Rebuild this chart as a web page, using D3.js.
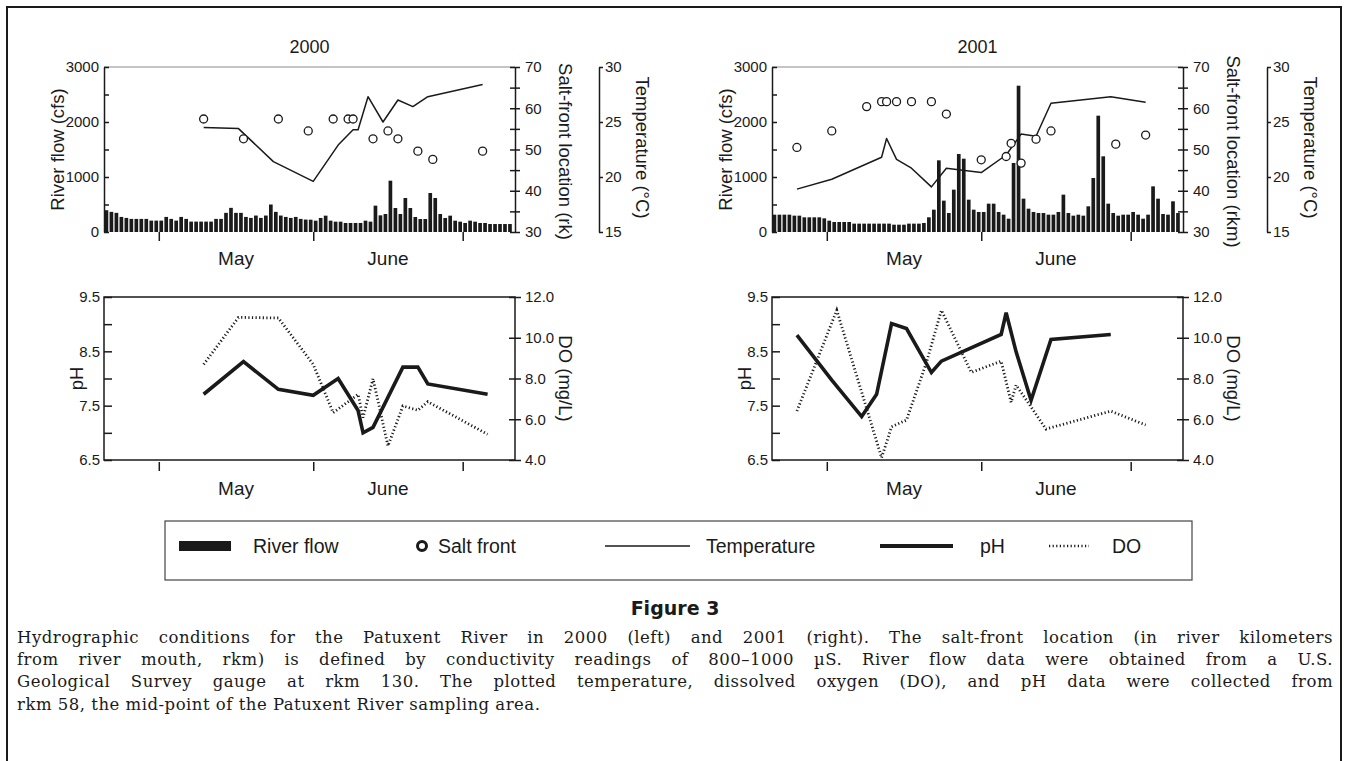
<!DOCTYPE html>
<html><head><meta charset="utf-8">
<script src="https://cdn.jsdelivr.net/npm/d3@7/dist/d3.min.js"></script>
<style>
body{margin:0;background:#fff;}
svg{display:block;}
text{font-family:"Liberation Sans",Arial,sans-serif;fill:#1a1a1a;}
</style></head>
<body><svg id="c" width="1349" height="761"></svg>
<script>
// ---------------- DATA ----------------
const years = [2000, 2001];
const monthLabels = ["May", "June"];
const flowStart = ["2000-04-20", "2001-04-20"];
const flow2000 = [396,366,348,274,256,238,238,238,238,207,207,207,274,238,207,274,238,189,189,189,189,189,238,238,348,439,348,348,274,256,299,256,299,500,366,299,274,256,274,238,226,224,206,255,297,206,188,188,164,164,164,164,206,188,479,303,327,933,436,327,618,436,273,236,236,709,618,327,255,297,206,188,164,206,188,164,164,145,145,145,145,145];
const flow2001 = [315,315,315,315,297,297,267,267,267,267,248,206,182,182,182,182,152,152,152,152,152,152,152,152,133,133,133,152,152,152,164,267,406,1303,570,345,770,1418,1333,588,406,364,364,515,515,364,315,242,1255,2660,606,424,364,345,345,315,315,364,679,345,297,315,297,467,982,2115,1376,515,345,297,315,315,364,315,242,315,830,606,327,315,558,345];

const tempDates2000 = ["2000-05-10","2000-05-17","2000-05-24","2000-06-01","2000-06-06","2000-06-09","2000-06-10","2000-06-12","2000-06-15","2000-06-18","2000-06-21","2000-06-24","2000-07-05"];
const temp2000 = [24.5,24.4,21.4,19.6,22.9,24.3,24.3,27.3,25.0,27.0,26.4,27.3,28.4];
const saltDates2000 = ["2000-05-10","2000-05-18","2000-05-25","2000-05-31","2000-06-05","2000-06-08","2000-06-09","2000-06-13","2000-06-16","2000-06-18","2000-06-22","2000-06-25","2000-07-05"];
const salt2000 = [57.4,52.6,57.4,54.5,57.4,57.4,57.4,52.6,54.5,52.6,49.6,47.6,49.6];
const pHDates2000 = ["2000-05-10","2000-05-18","2000-05-25","2000-06-01","2000-06-06","2000-06-10","2000-06-11","2000-06-13","2000-06-19","2000-06-22","2000-06-24","2000-07-06"];
const pH2000 = [7.71,8.31,7.80,7.69,8.0,7.41,7.0,7.1,8.21,8.21,7.9,7.71];
const doDates2000 = ["2000-05-10","2000-05-17","2000-05-25","2000-06-01","2000-06-05","2000-06-10","2000-06-11","2000-06-13","2000-06-16","2000-06-19","2000-06-22","2000-06-24","2000-07-06"];
const do2000 = [8.69,11.0,10.97,8.69,6.32,7.22,6.08,7.99,4.69,6.65,6.44,6.86,5.26];

const tempDates2001 = ["2001-04-25","2001-05-02","2001-05-12","2001-05-13","2001-05-15","2001-05-18","2001-05-22","2001-05-25","2001-06-01","2001-06-06","2001-06-09","2001-06-12","2001-06-15","2001-06-27","2001-07-04"];
const temp2001 = [18.9,19.8,21.8,23.5,21.6,20.8,19.1,20.8,20.4,22.0,23.9,23.7,26.7,27.3,26.8];
const saltDates2001 = ["2001-04-25","2001-05-02","2001-05-09","2001-05-12","2001-05-13","2001-05-15","2001-05-18","2001-05-22","2001-05-25","2001-06-01","2001-06-06","2001-06-07","2001-06-09","2001-06-12","2001-06-15","2001-06-28","2001-07-04"];
const salt2001 = [50.5,54.5,60.4,61.6,61.6,61.6,61.6,61.6,58.6,47.5,48.3,51.5,46.7,52.5,54.5,51.3,53.5];
const pHDates2001 = ["2001-04-25","2001-05-02","2001-05-08","2001-05-11","2001-05-14","2001-05-17","2001-05-22","2001-05-24","2001-06-05","2001-06-06","2001-06-08","2001-06-11","2001-06-15","2001-06-27"];
const pH2001 = [8.80,7.97,7.30,7.71,9.01,8.92,8.11,8.32,8.81,9.21,8.49,7.60,8.72,8.81];
const doDates2001 = ["2001-04-25","2001-05-03","2001-05-12","2001-05-14","2001-05-17","2001-05-21","2001-05-24","2001-05-30","2001-06-05","2001-06-07","2001-06-08","2001-06-14","2001-06-27","2001-07-04"];
const do2001 = [6.40,11.35,4.11,5.63,5.96,8.79,11.35,8.30,8.85,6.83,7.68,5.52,6.40,5.72];

const flowTicks = [0,1000,2000,3000];
const saltTicks = [30,40,50,60,70];
const tempTicks = [15,20,25,30];
const pHTicks = [6.5,7.5,8.5,9.5];
const doTicks = [4,6,8,10,12];
const saltTitles = ["Salt-front location (rk)", "Salt-front location (rkm)"];

const captionLines = [
 "Hydrographic conditions for the Patuxent River in 2000 (left) and 2001 (right). The salt-front location (in river kilometers",
 "from river mouth, rkm) is defined by conductivity readings of 800\u20131000 \u00B5S. River flow data were obtained from a U.S.",
 "Geological Survey gauge at rkm 130. The plotted temperature, dissolved oxygen (DO), and pH data were collected from",
 "rkm 58, the mid-point of the Patuxent River sampling area."
];

// ---------------- DRAW ----------------
const parse = d3.timeParse("%Y-%m-%d");
const svg = d3.select("#c");
const INK = "#1a1a1a";

svg.append("path").attr("d","M7,761 V7 H1341 V761").attr("fill","none").attr("stroke",INK).attr("stroke-width",2);

const PW = 411, TOP_Y0 = 67, TOP_Y1 = 232, BOT_Y0 = 297, BOT_Y1 = 460;
const panelX = [104, 772];

function styleAxis(g){
  g.selectAll("path.domain").attr("stroke",INK).attr("stroke-width",1.5);
  g.selectAll(".tick line").attr("stroke",INK).attr("stroke-width",1.5);
  g.selectAll(".tick text").style("font-size","15px").attr("fill",INK).style("font-family","Liberation Sans, Arial, sans-serif");
}
function minorTicks(lo,hi,step){const a=[];for(let v=lo;v<=hi+1e-9;v+=step)a.push(+v.toFixed(3));return a;}

function xScale(k){
  const y = years[k];
  return d3.scaleTime().domain([new Date(y,3,20), new Date(y,6,11,12)]).range([panelX[k], panelX[k]+PW]);
}

function monthAxis(k, x, yAxis, labelY){
  const y = years[k];
  const ticks = [new Date(y,4,1), new Date(y,5,1), new Date(y,6,1)];
  const g = svg.append("g").attr("transform",`translate(0,${yAxis})`)
    .call(d3.axisBottom(x).tickValues(ticks).tickSize(9).tickSizeOuter(0).tickFormat(""));
  g.select("path.domain").remove();
  styleAxis(g);
  monthLabels.forEach((m,i)=>{
    const cx = (x(ticks[i]) + x(ticks[i+1]))/2;
    svg.append("text").attr("x",cx).attr("y",labelY).attr("text-anchor","middle").style("font-size","19px").text(m);
  });
}

function topPanel(k, flow, tDates, temp, sDates, salt){
  const x = xScale(k);
  const x0 = panelX[k], x1 = x0 + PW;
  const yF = d3.scaleLinear().domain([0,3000]).range([TOP_Y1, TOP_Y0]);
  const yS = d3.scaleLinear().domain([30,70]).range([TOP_Y1, TOP_Y0]);
  const yT = d3.scaleLinear().domain([15,30]).range([TOP_Y1, TOP_Y0]);
  const start = parse(flowStart[k]);
  svg.append("line").attr("x1",x0).attr("x2",x1).attr("y1",TOP_Y0).attr("y2",TOP_Y0).attr("stroke","#8a8a8a").attr("stroke-width",1.2);
  const dayW = x(d3.timeDay.offset(start,1)) - x(start);
  svg.append("g").selectAll("rect").data(flow).join("rect")
    .attr("x",(d,i)=>x(d3.timeDay.offset(start,i)) + 0.6)
    .attr("width", dayW - 1.3)
    .attr("y",d=>yF(d)).attr("height",d=>yF(0)-yF(d))
    .attr("fill",INK);
  const tp = tDates.map((d,i)=>[parse(d),temp[i]]);
  svg.append("path").datum(tp).attr("fill","none").attr("stroke",INK).attr("stroke-width",1.5)
    .attr("stroke-linejoin","round")
    .attr("d", d3.line().x(d=>x(d[0])).y(d=>yT(d[1])));
  svg.append("g").selectAll("circle").data(sDates.map((d,i)=>[parse(d),salt[i]])).join("circle")
    .attr("cx",d=>x(d[0])).attr("cy",d=>yS(d[1])).attr("r",4)
    .attr("fill","#fff").attr("stroke",INK).attr("stroke-width",1.3);
  let g = svg.append("g").attr("transform",`translate(${x0},0)`)
    .call(d3.axisRight(yF).tickValues(minorTicks(0,3000,500)).tickSize(5).tickSizeOuter(0).tickFormat(""));
  styleAxis(g);
  g = svg.append("g").attr("transform",`translate(${x0},0)`)
    .call(d3.axisLeft(yF).tickValues(flowTicks).tickSize(0).tickPadding(5).tickFormat(d3.format("d")));
  g.select("path.domain").remove(); styleAxis(g);
  g = svg.append("g").attr("transform",`translate(${x1},0)`)
    .call(d3.axisRight(yS).tickValues(minorTicks(30,70,5)).tickSize(5).tickSizeOuter(0).tickFormat(""));
  styleAxis(g);
  g = svg.append("g").attr("transform",`translate(${x1},0)`)
    .call(d3.axisLeft(yS).tickValues(minorTicks(30,70,5)).tickSize(5).tickSizeOuter(0).tickFormat(""));
  g.select("path.domain").remove(); styleAxis(g);
  g = svg.append("g").attr("transform",`translate(${x1},0)`)
    .call(d3.axisRight(yS).tickValues(saltTicks).tickSize(0).tickPadding(10));
  g.select("path.domain").remove(); styleAxis(g);
  const xt = x0 + 495;
  g = svg.append("g").attr("transform",`translate(${xt},0)`)
    .call(d3.axisRight(yT).tickValues(tempTicks).tickSize(4).tickSizeOuter(0).tickPadding(2));
  styleAxis(g);
  monthAxis(k, x, TOP_Y1, 265);
  svg.append("text").attr("x",(x0+x1)/2).attr("y",53).attr("text-anchor","middle").style("font-size","18px").text(years[k]);
  svg.append("text").attr("transform",`translate(${x0-40},${(TOP_Y0+TOP_Y1)/2}) rotate(-90)`).attr("text-anchor","middle").style("font-size","18.5px").text("River flow (cfs)");
  svg.append("text").attr("transform",`translate(${x1+44},${(TOP_Y0+TOP_Y1)/2+2}) rotate(90)`).attr("text-anchor","middle").style("font-size","18.5px").text(saltTitles[k]);
  svg.append("text").attr("transform",`translate(${xt+37},${(TOP_Y0+TOP_Y1)/2-2}) rotate(90)`).attr("text-anchor","middle").style("font-size","18.5px").text("Temperature (\u00B0C)");
}

function bottomPanel(k, pDates, pH, dDates, DO){
  const x = xScale(k);
  const x0 = panelX[k], x1 = x0 + PW;
  const yP = d3.scaleLinear().domain([6.5,9.5]).range([BOT_Y1, BOT_Y0]);
  const yD = d3.scaleLinear().domain([4,12]).range([BOT_Y1, BOT_Y0]);
  svg.append("rect").attr("x",x0).attr("y",BOT_Y0).attr("width",PW).attr("height",BOT_Y1-BOT_Y0)
    .attr("fill","none").attr("stroke",INK).attr("stroke-width",1.5);
  svg.append("path").datum(dDates.map((d,i)=>[parse(d),DO[i]])).attr("fill","none").attr("stroke",INK)
    .attr("stroke-width",2.8).attr("stroke-dasharray","1.2,2.4")
    .attr("d", d3.line().x(d=>x(d[0])).y(d=>yD(d[1])));
  svg.append("path").datum(pDates.map((d,i)=>[parse(d),pH[i]])).attr("fill","none").attr("stroke",INK)
    .attr("stroke-width",3.6).attr("stroke-linejoin","miter")
    .attr("d", d3.line().x(d=>x(d[0])).y(d=>yP(d[1])));
  let g = svg.append("g").attr("transform",`translate(${x0},0)`)
    .call(d3.axisRight(yP).tickValues(minorTicks(6.5,9.5,0.5)).tickSize(8).tickSizeOuter(0).tickFormat(""));
  g.select("path.domain").remove(); styleAxis(g);
  g = svg.append("g").attr("transform",`translate(${x0},0)`)
    .call(d3.axisLeft(yP).tickValues(pHTicks).tickSize(0).tickPadding(4).tickFormat(d3.format(".1f")));
  g.select("path.domain").remove(); styleAxis(g);
  g = svg.append("g").attr("transform",`translate(${x1},0)`)
    .call(d3.axisRight(yD).tickValues(doTicks).tickSize(6).tickSizeOuter(0).tickFormat(""));
  g.select("path.domain").remove(); styleAxis(g);
  g = svg.append("g").attr("transform",`translate(${x1},0)`)
    .call(d3.axisLeft(yD).tickValues(doTicks).tickSize(6).tickSizeOuter(0).tickFormat(""));
  g.select("path.domain").remove(); styleAxis(g);
  g = svg.append("g").attr("transform",`translate(${x1},0)`)
    .call(d3.axisRight(yD).tickValues(doTicks).tickSize(0).tickPadding(10).tickFormat(d3.format(".1f")));
  g.select("path.domain").remove(); styleAxis(g);
  monthAxis(k, x, BOT_Y1+2, 495);
  svg.append("text").attr("transform",`translate(${x0-21},${(BOT_Y0+BOT_Y1)/2}) rotate(-90)`).attr("text-anchor","middle").style("font-size","18.5px").text("pH");
  svg.append("text").attr("transform",`translate(${x1+44},${(BOT_Y0+BOT_Y1)/2}) rotate(90)`).attr("text-anchor","middle").style("font-size","18.5px").text("DO (mg/L)");
}

topPanel(0, flow2000, tempDates2000, temp2000, saltDates2000, salt2000);
topPanel(1, flow2001, tempDates2001, temp2001, saltDates2001, salt2001);
bottomPanel(0, pHDates2000, pH2000, doDates2000, do2000);
bottomPanel(1, pHDates2001, pH2001, doDates2001, do2001);

// legend
const lg = svg.append("g");
lg.append("rect").attr("x",165).attr("y",521).attr("width",1027).attr("height",59).attr("fill","none").attr("stroke","#444").attr("stroke-width",1.2);
const ly = 546;
lg.append("rect").attr("x",179).attr("y",541).attr("width",52).attr("height",10).attr("fill",INK);
lg.append("circle").attr("cx",422).attr("cy",ly).attr("r",4.5).attr("fill","#fff").attr("stroke",INK).attr("stroke-width",3);
lg.append("line").attr("x1",605).attr("x2",690).attr("y1",ly).attr("y2",ly).attr("stroke",INK).attr("stroke-width",1.5);
lg.append("line").attr("x1",880).attr("x2",953).attr("y1",ly).attr("y2",ly).attr("stroke",INK).attr("stroke-width",4);
lg.append("line").attr("x1",1049).attr("x2",1089).attr("y1",ly).attr("y2",ly).attr("stroke",INK).attr("stroke-width",2.5).attr("stroke-dasharray","1.2,2.4");
[["River flow",253],["Salt front",438],["Temperature",706],["pH",980],["DO",1112]].forEach(([t,xx])=>{
  lg.append("text").attr("x",xx).attr("y",ly+7).style("font-size","19.5px").text(t);
});

// caption
svg.append("text").attr("x",675).attr("y",615).attr("text-anchor","middle")
  .style("font-family","DejaVu Sans, sans-serif").style("font-weight","bold").style("font-size","19px").text("Figure 3");
captionLines.forEach((t,i)=>{
  const tx = svg.append("text").attr("x",17).attr("y",643 + i*22.2)
    .style("font-family","DejaVu Serif, serif").style("font-size","16.5px").style("letter-spacing","0.5px").text(t);
  if(i<3){
    const w = tx.node().getComputedTextLength();
    const spaces = (t.match(/ /g)||[]).length;
    const extra = (1316 - w)/spaces;
    tx.style("word-spacing", extra.toFixed(2)+"px");
  }
});
</script></body></html>
